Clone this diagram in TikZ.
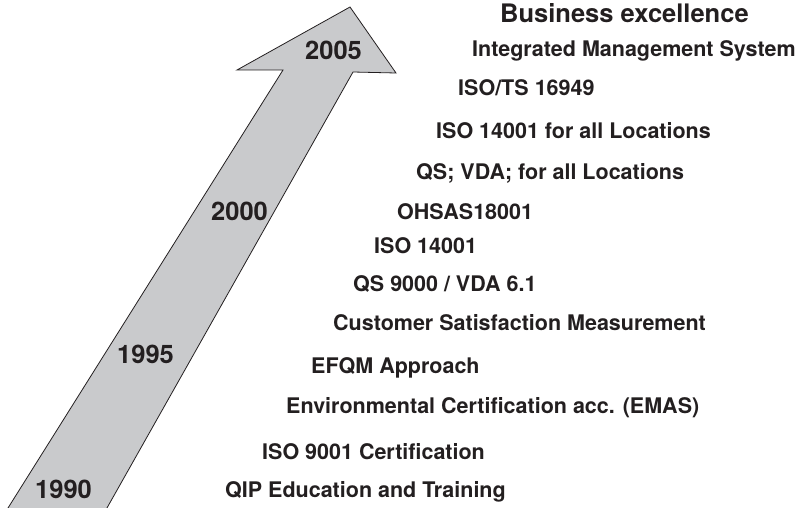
\documentclass[tikz,border=0pt]{standalone}
\usepackage{fontspec}
\setmainfont{TeX Gyre Heros}
\usetikzlibrary{positioning}

\definecolor{arrowgray}{HTML}{C9CACC}
\definecolor{inkdark}{HTML}{231F20}

\tikzset{
    milestone/.style={anchor=base west, inner sep=0pt, text=inkdark,
        font=\fontsize{21.5}{24}\selectfont\bfseries},
    yearlabel/.style={anchor=base west, inner sep=0pt, text=inkdark,
        font=\fontsize{25.5}{28}\selectfont\bfseries},
}

\begin{document}
\begin{tikzpicture}[x=1pt, y=-1pt]
    \useasboundingbox (0, 0) rectangle (805, 508);

    % Rising arrow
    \draw[fill=arrowgray, draw=inkdark, line width=0.8pt, line join=miter]
        (3.6, 515) -- (283, 70) -- (237, 70) -- (350, 7) -- (396, 73)
        -- (353, 72) -- (103, 515) -- cycle;

    % Years on the arrow
    \node[yearlabel] (y2005) at (305, 60) {2005};
    \node[yearlabel] (y2000) at (211, 220) {2000};
    \node[yearlabel] (y1995) at (117, 363) {1995};
    \node[yearlabel] (y1990) at (35, 498) {1990};

    % Goal
    \node[yearlabel] (goal) at (500, 23) {Business excellence};

    % Milestones
    \node[milestone] (ims) at (472, 57) {Integrated Management System};
    \node[milestone] (ts) at (458, 96) {ISO/TS 16949};
    \node[milestone] (isoall) at (436, 138) {ISO 14001 for all Locations};
    \node[milestone] (qsall) at (416, 179) {QS; VDA; for all Locations};
    \node[milestone] (ohsas) at (397, 219) {OHSAS18001};
    \node[milestone] (iso14) at (374, 253) {ISO 14001};
    \node[milestone] (qs) at (353, 291) {QS 9000 / VDA 6.1};
    \node[milestone] (csm) at (333, 330) {Customer Satisfaction Measurement};
    \node[milestone] (efqm) at (311, 373) {EFQM Approach};
    \node[milestone] (emas) at (286, 413) {Environmental Certification acc. (EMAS)};
    \node[milestone] (iso9) at (262, 459) {ISO 9001 Certification};
    \node[milestone] (qip) at (225, 497) {QIP Education and Training};
\end{tikzpicture}
\end{document}
